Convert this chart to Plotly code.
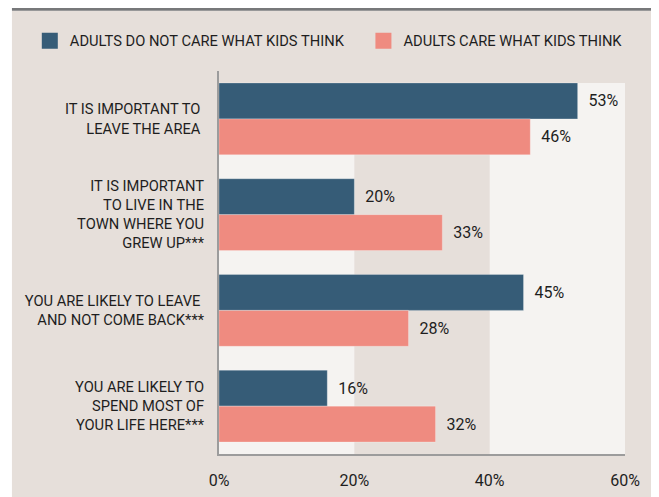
import plotly.graph_objects as go

categories = [
    "IT IS IMPORTANT TO\u00a0<br>LEAVE THE AREA\u00a0",
    "IT IS IMPORTANT<br>TO LIVE IN THE<br>TOWN WHERE YOU<br>GREW UP***",
    "YOU ARE LIKELY TO LEAVE\u00a0<br>AND NOT COME BACK***",
    "YOU ARE LIKELY TO<br>SPEND MOST OF<br>YOUR LIFE HERE***",
]
series_names = ["ADULTS DO NOT CARE WHAT KIDS THINK", "ADULTS CARE WHAT KIDS THINK"]
not_care = [53, 20, 45, 16]
care = [46, 33, 28, 32]
x_tickvals = [0, 20, 40, 60]
x_ticktext = ["0%", "20%", "40%", "60%"]

BLUE = "#365c77"
PINK = "#ef8b80"
BEIGE = "#e6dfda"
LIGHT = "#f5f3f1"
AXIS = "#9c9c9c"
TXT = "#1e1e1e"
FONT = "Roboto, sans-serif"
BARGAP = 0.25

fig = go.Figure()
for vals, col, name in [(not_care, BLUE, series_names[0]), (care, PINK, series_names[1])]:
    fig.add_trace(go.Bar(
        y=categories, x=vals, orientation="h", name=name, showlegend=False,
        marker=dict(color=col, line=dict(width=1, color="rgba(255,255,255,0.25)")),
        text=[f"\u00a0\u00a0{v}%" for v in vals], textposition="outside",
        textfont=dict(size=16, color=TXT, family=FONT), cliponaxis=False,
        hoverinfo="skip",
    ))
# legend entries with large square swatches
legend_pad = ["\u00a0\u00a0\u00a0\u00a0", ""]
for col, name, pad in [(BLUE, series_names[0], legend_pad[0]), (PINK, series_names[1], legend_pad[1])]:
    fig.add_trace(go.Scatter(
        x=[None], y=[None], mode="markers", name=name + pad,
        marker=dict(symbol="square", size=18, color=col),
    ))

shapes = [
    # page background
    dict(type="rect", xref="paper", yref="paper", x0=-0.51, x1=1.12, y0=-0.16, y1=1.157,
         fillcolor=BEIGE, line_width=0, layer="below"),
    # top rule
    dict(type="rect", xref="paper", yref="paper", x0=-0.51, x1=1.12, y0=1.157, y1=1.167,
         fillcolor="#77787a", line_width=0, layer="below"),
]
for x0, x1 in [(0, 20), (40, 60)]:
    shapes.append(dict(type="rect", xref="x", yref="y", x0=x0, x1=x1,
                       y0=-0.5 + BARGAP / 2, y1=len(categories) - 0.5,
                       fillcolor=LIGHT, line_width=0, layer="below"))

fig.update_layout(
    width=659, height=497,
    margin=dict(l=211, r=42, t=63, b=51, autoexpand=False),
    paper_bgcolor="white", plot_bgcolor=BEIGE,
    barmode="group", bargap=BARGAP, bargroupgap=0,
    font=dict(family=FONT, size=15, color=TXT),
    shapes=shapes,
    showlegend=True,
    legend=dict(orientation="h", x=-0.466, xanchor="left", y=1.078, yanchor="middle",
                font=dict(size=14.7, color=TXT, family=FONT), bgcolor="rgba(0,0,0,0)",
                itemclick=False),
    xaxis=dict(range=[0, 60], tickvals=x_tickvals, ticktext=x_ticktext, showgrid=False,
               zeroline=False, showline=True, linecolor=AXIS, linewidth=2, automargin=False,
               tickfont=dict(size=16, color=TXT, family=FONT), ticks="", ticklabelstandoff=11),
    yaxis=dict(range=[len(categories) - 0.5, -0.5], showgrid=False, zeroline=False,
               showline=True, linecolor=AXIS, linewidth=2, ticks="", automargin=False,
               tickfont=dict(size=14.7, color=TXT, family=FONT), ticklabelstandoff=10),
)
fig.write_html("out.html")
